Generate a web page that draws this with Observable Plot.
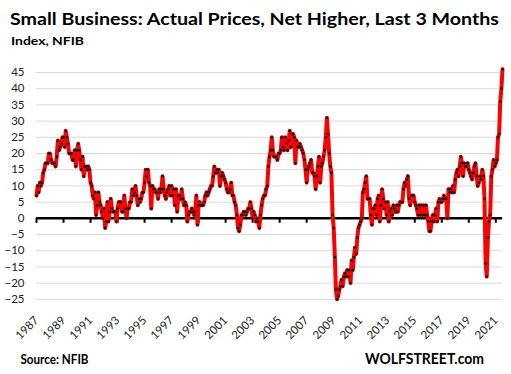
<!DOCTYPE html>
<html><head><meta charset="utf-8">
<script src="https://cdn.jsdelivr.net/npm/d3@7"></script>
<script src="https://cdn.jsdelivr.net/npm/@observablehq/plot@0.6"></script>
<style>
html,body{margin:0;padding:0;background:#fff;}
#wrap{position:relative;width:511px;height:374px;overflow:hidden;}
#wrap svg{position:absolute;left:0;top:0;}
</style></head><body><div id="wrap"></div>
<script>
const title = "Small Business: Actual Prices, Net Higher, Last 3 Months";
const subtitle = "Index, NFIB";
const sourceText = "Source: NFIB";
const brandText = "WOLFSTREET.com";

// Monthly values, starting January 1987
const startYear = 1987;
const values1987_1996 = [
  7, 10, 8, 11, 10, 11, 14, 15, 17, 17, 17, 20,
  20, 18, 17, 17, 17, 16, 19, 24, 21, 22, 23, 25,
  25, 22, 27, 25, 23, 20, 20, 20, 18, 18, 21, 16,
  21, 23, 21, 18, 15, 19, 13, 16, 16, 15, 16, 15,
  11, 10, 7, 6, 8, 1, 4, 8, 5, 4, 2, 0,
  3, -3, -1, 5, -1, 2, 6, 3, 2, 2, 2, -1,
  3, 5, 5, 5, 2, 2, 7, 3, 0, 3, 3, 5,
  5, 9, 7, 8, 10, 7, 4, 6, 5, 6, 8, 8,
  11, 15, 13, 15, 11, 10, 3, 10, 9, 9, 8, 8,
  6, 9, 8, 9, 13, 9, 7, 6, 8, 9, 10, 7
];
const values1997_2006 = [
  10, 7, 9, 4, 9, 2, 7, 7, 6, 9, 6, 4,
  5, 4, -1, 1, 2, 2, 3, 2, 1, 2, 7, -2,
  4, 5, 4, 4, 4, 5, 7, 8, 7, 8, 9, 10,
  10, 13, 16, 14, 15, 14, 15, 10, 13, 14, 13, 12,
  11, 9, 8, 8, 9, 11, 7, 7, 5, 4, 1, -3,
  -4, -2, 1, 1, 2, 2, 1, 2, 3, 3, 5, 3,
  0, 2, 1, -1, 0, -1, -3, 1, 4, 6, 7, 7,
  9, 10, 16, 19, 21, 25, 21, 19, 19, 19, 18, 20,
  20, 21, 25, 22, 21, 25, 23, 21, 24, 27, 22, 26,
  26, 25, 17, 24, 22, 22, 23, 22, 21, 20, 18, 15
];
const values2007_2016 = [
  11, 15, 16, 17, 18, 14, 14, 13, 9, 13, 16, 19,
  11, 16, 17, 19, 21, 25, 31, 26, 20, 16, 14, 1,
  -3, -12, -22, -25, -24, -22, -21, -19, -21, -18, -17, -18,
  -16, -18, -16, -20, -13, -16, -12, -9, -11, -6, -3, -2,
  -1, 0, 8, 9, 11, 13, 6, 6, 6, 1, -2, 3,
  3, 4, 1, 6, 7, -1, 4, 9, 6, 3, 5, 1,
  5, -1, 2, 3, 1, 4, 3, 2, 4, 2, 4, 5,
  5, 5, 9, 11, 10, 12, 13, 6, 4, 7, 7, 7,
  5, 4, 3, 1, 4, 1, 4, 1, 4, 1, 4, 1,
  -1, -4, -4, -1, 1, -1, 1, 3, -1, 5, 6, 5
];
const values2017_2021 = [
  5, 6, 7, 6, 6, 0, 9, 8, 9, 8, 10, 8,
  12, 14, 15, 13, 16, 19, 17, 13, 17, 16, 16, 17,
  15, 14, 13, 12, 14, 16, 17, 13, 10, 11, 13, 12,
  15, 13, 6, -14, -18, -6, -1, 1, 13, 15, 18, 16,
  17, 18, 25, 26, 36, 40, 46
];

const yTicks = [-25, -20, -15, -10, -5, 0, 5, 10, 15, 20, 25, 30, 35, 40, 45];
const xTickYears = [1987, 1989, 1991, 1993, 1995, 1997, 1999, 2001, 2003, 2005, 2007, 2009, 2011, 2013, 2015, 2017, 2019, 2021];

const values = [...values1987_1996, ...values1997_2006, ...values2007_2016, ...values2017_2021];
const data = values.map((v, i) => ({date: new Date(Date.UTC(startYear, i, 1)), value: v}));
const xTicks = xTickYears.map(y => new Date(Date.UTC(y, 0, 1)));

const chart = Plot.plot({
  width: 511, height: 374,
  marginLeft: 36, marginRight: 9, marginTop: 72, marginBottom: 59,
  x: {type: "utc", domain: [data[0].date, data[data.length - 1].date]},
  y: {domain: [-30, 45]},
  style: {fontFamily: "Lato, 'Open Sans', sans-serif", fontSize: "11.5px", color: "#222", background: "transparent", overflow: "visible"},
  marks: [
    Plot.gridY(yTicks, {stroke: "#d9d9d9", strokeOpacity: 1, strokeWidth: 1}),
    Plot.axisY(yTicks, {tickSize: 0, tickPadding: 12, label: null}),
    Plot.axisX(xTicks, {tickSize: 0, tickRotate: -45, tickFormat: d3.utcFormat("%Y"), tickPadding: 3, label: null}),
    Plot.ruleY([0], {stroke: "black", strokeWidth: 2.5}),
    Plot.ruleX(xTicks, {x: d => d, y1: 0, y2: 0, insetBottom: -5, stroke: "black", strokeWidth: 2}),
    Plot.line(data, {x: "date", y: "value", stroke: "#ff0000", strokeWidth: 4, strokeLinejoin: "round", strokeLinecap: "round"}),
    Plot.dot(data, {x: "date", y: "value", r: 1.4, fill: "#1a1a1a", stroke: "none"})
  ]
});
const wrap = document.getElementById("wrap");
wrap.appendChild(chart);

// Text overlay
const ov = d3.select(wrap).append("svg").attr("width", 511).attr("height", 374)
  .style("font-family", "Lato, 'Open Sans', sans-serif").style("font-weight", "bold").attr("fill", "#000");
const texts = [
  {t: title, x: 10, y: 24.5, size: 17.5, len: 489},
  {t: subtitle, x: 11, y: 45, size: 12, len: 73},
  {t: sourceText, x: 20.5, y: 363.5, size: 12.5, len: 68},
  {t: brandText, x: 365, y: 364, size: 15.5, len: 119}
];
for (const d of texts) {
  ov.append("text").attr("x", d.x).attr("y", d.y).attr("font-size", d.size)
    .attr("textLength", d.len).attr("lengthAdjust", "spacingAndGlyphs").text(d.t);
}
</script></body></html>
